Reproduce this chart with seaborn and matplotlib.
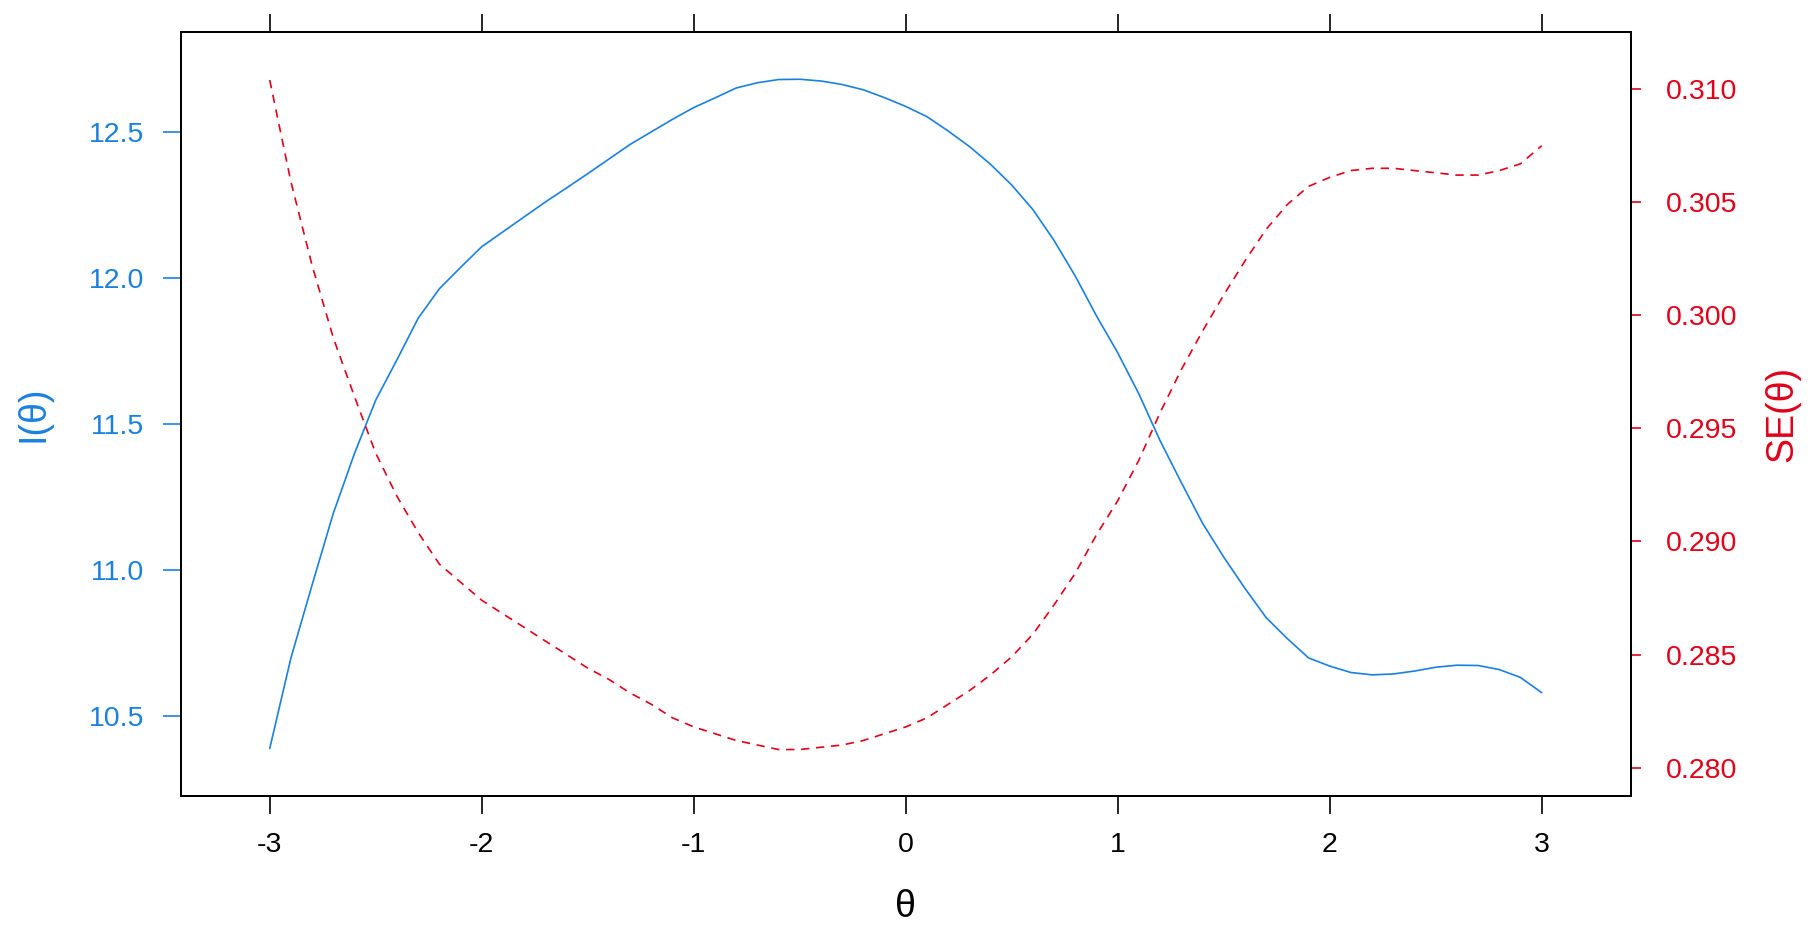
import numpy as np
import pandas as pd
import seaborn as sns
import matplotlib.pyplot as plt

# theta grid and the two curves
theta = [-3.0, -2.9, -2.8, -2.7, -2.6, -2.5, -2.4, -2.3, -2.2, -2.1,
         -2.0, -1.9, -1.8, -1.7, -1.6, -1.5, -1.4, -1.3, -1.2, -1.1,
         -1.0, -0.9, -0.8, -0.7, -0.6, -0.5, -0.4, -0.3, -0.2, -0.1,
         0.0, 0.1, 0.2, 0.3, 0.4, 0.5, 0.6, 0.7, 0.8, 0.9,
         1.0, 1.1, 1.2, 1.3, 1.4, 1.5, 1.6, 1.7, 1.8, 1.9,
         2.0, 2.1, 2.2, 2.3, 2.4, 2.5, 2.6, 2.7, 2.8, 2.9, 3.0]

info = [10.39, 10.70, 10.95, 11.195, 11.40, 11.582, 11.72, 11.862, 11.963, 12.036,
        12.107, 12.158, 12.209, 12.26, 12.308, 12.357, 12.407, 12.457, 12.50, 12.543,
        12.583, 12.616, 12.65, 12.668, 12.679, 12.68, 12.674, 12.662, 12.644, 12.617,
        12.587, 12.552, 12.503, 12.45, 12.389, 12.318, 12.234, 12.128, 12.006, 11.87,
        11.744, 11.603, 11.443, 11.30, 11.161, 11.045, 10.938, 10.838, 10.766, 10.70,
        10.672, 10.65, 10.642, 10.645, 10.655, 10.668, 10.675, 10.674, 10.66, 10.633, 10.581]

se = [0.3104, 0.3059, 0.3022, 0.2990, 0.2964, 0.2939, 0.2920, 0.2904, 0.2890, 0.2882,
      0.2874, 0.2868, 0.2862, 0.2856, 0.2850, 0.2844, 0.2839, 0.2833, 0.2828, 0.2822,
      0.2818, 0.2815, 0.2812, 0.2810, 0.2808, 0.2808, 0.2809, 0.2810, 0.2812, 0.2815,
      0.2818, 0.2822, 0.2828, 0.2834, 0.2841, 0.2849, 0.2859, 0.2872, 0.2886, 0.2903,
      0.2918, 0.2936, 0.2957, 0.2976, 0.2993, 0.3009, 0.3024, 0.3038, 0.3049, 0.3057,
      0.3061, 0.3064, 0.3065, 0.3065, 0.3064, 0.3063, 0.3062, 0.3062, 0.3064, 0.3067, 0.3075]

info_ticks = [10.5, 11.0, 11.5, 12.0, 12.5]
se_ticks = [0.280, 0.285, 0.290, 0.295, 0.300, 0.305, 0.310]
theta_ticks = [-3, -2, -1, 0, 1, 2, 3]

blue = '#1a80e0'
red = '#e0001a'

df = pd.DataFrame({'theta': theta, 'info': info, 'se': se})

sns.set_theme(style='white')
plt.rcParams['font.family'] = ['Liberation Sans', 'DejaVu Sans']
plt.rcParams['axes.unicode_minus'] = False

fig = plt.figure(figsize=(18.16, 9.33), dpi=100)
ax = fig.add_axes([0.0995, 0.1472, 0.7985, 0.8181])
ax2 = ax.twinx()

sns.lineplot(data=df, x='theta', y='info', ax=ax, color=blue, linewidth=1.2)
sns.lineplot(data=df, x='theta', y='se', ax=ax2, color=red, linewidth=1.2,
             linestyle=(0, (5, 4)))

ax.set_xlim(-3.42, 3.42)
ax.set_ylim(10.2286, 12.8404)
ax2.set_ylim(0.27876, 0.31251)

ax.set_xticks(theta_ticks)
ax.set_xticklabels([str(t) for t in theta_ticks])
ax.set_yticks(info_ticks)
ax.set_yticklabels([f'{v:.1f}' for v in info_ticks])
ax2.set_yticks(se_ticks)
ax2.set_yticklabels([f'{v:.3f}' for v in se_ticks])

# frame
for a in (ax, ax2):
    for s in a.spines.values():
        s.set_color('black')
        s.set_linewidth(1.4)

ax.tick_params(axis='x', which='both', direction='out', top=True, bottom=True,
               labeltop=False, length=13, width=1.2, pad=13, labelsize=20.5,
               color='black', labelcolor='black')
ax.tick_params(axis='y', direction='out', left=True, length=13, width=1.2, pad=13,
               labelsize=20.5, color=blue, labelcolor=blue)
ax2.tick_params(axis='y', direction='out', right=True, length=7, width=1.2, pad=18,
                labelsize=20.5, color=red, labelcolor=red)

ax.set_xlabel('θ', fontsize=27, color='black', va='center')
ax.xaxis.set_label_coords(0.5, -0.1458)
ax.set_ylabel('I(θ)', fontsize=27, color=blue, va='center')
ax.yaxis.set_label_coords(-0.1017, 0.5)
ax2.set_ylabel('SE(θ)', fontsize=27, color=red, va='center')
ax2.yaxis.set_label_coords(1.1048, 0.5)

fig.savefig('out.png', dpi=100, facecolor='white')
